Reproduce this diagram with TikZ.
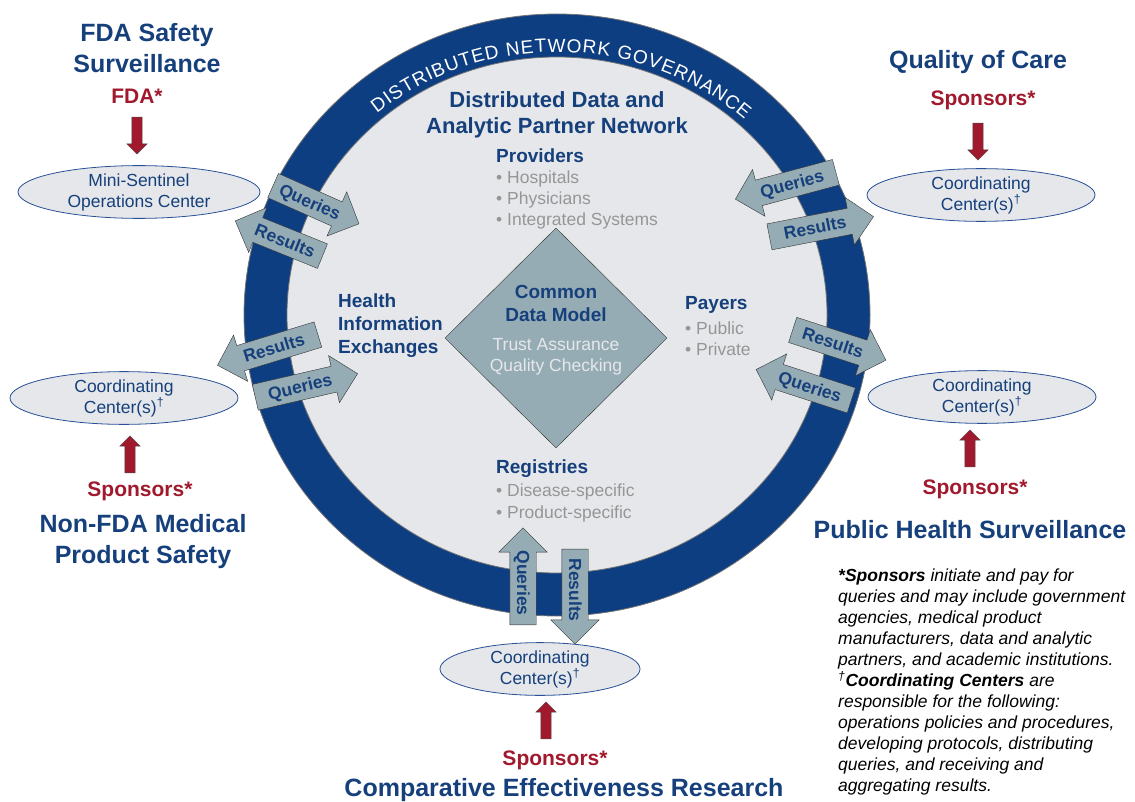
\documentclass[tikz,border=0pt]{standalone}
\usepackage{fontspec}
\setmainfont{Liberation Sans}
\usetikzlibrary{shapes.geometric,shapes.arrows,decorations.text}

\definecolor{netblue}{RGB}{14,62,130}
\definecolor{textblue}{RGB}{22,64,124}
\definecolor{sponsorred}{RGB}{160,25,45}
\definecolor{ringgray}{RGB}{229,231,234}
\definecolor{arrowgray}{RGB}{150,172,180}
\definecolor{bulletgray}{RGB}{150,150,150}
\definecolor{ovalblue}{RGB}{40,80,150}

\tikzset{
	title/.style={font=\fontsize{25}{31}\selectfont\bfseries, text=textblue, align=center, inner sep=0pt},
	sponsor/.style={font=\fontsize{21}{25}\selectfont\bfseries, text=sponsorred, inner sep=0pt},
	oval/.style={ellipse, draw=ovalblue, thick, fill=ringgray, minimum width=228pt, minimum height=46pt,
		font=\fontsize{17.5}{21}\selectfont, text=textblue, align=center, inner sep=0pt},
	flow/.style={single arrow, draw=black!80, fill=arrowgray, font=\fontsize{17.5}{18}\selectfont\bfseries,
		text=textblue, text height=13pt, text depth=1pt, inner ysep=6pt, inner xsep=6pt,
		single arrow head extend=11pt},
	push/.style={single arrow, draw=black!70, fill=sponsorred, minimum height=37pt, text height=0pt,
		text depth=0pt, inner ysep=5pt, inner xsep=0pt, single arrow head extend=5pt},
	group/.style={font=\fontsize{19}{23}\selectfont\bfseries, text=textblue, align=left, inner sep=0pt},
	items/.style={font=\fontsize{17.5}{21.3}\selectfont, text=bulletgray, align=left, inner sep=0pt},
}

\begin{document}
\begin{tikzpicture}[x=1pt,y=-1pt]
	\useasboundingbox (0,0) rectangle (1135,802);

	%ring and inner disc
	\coordinate (hub) at (557,315);
	\fill[netblue, draw=black!55, line width=0.8pt] (hub) ellipse[x radius=313pt, y radius=301pt];
	\fill[ringgray, draw=black!55, line width=0.8pt] (hub) ellipse[x radius=270pt, y radius=258pt];

	\path[decorate, decoration={text along path, text align={fit to path},
		text={|\fontsize{19}{19}\selectfont\color{white}|DISTRIBUTED NETWORK GOVERNANCE}}]
		([shift={(130:280pt and 263pt)}]hub) arc[start angle=130, end angle=48, x radius=280pt, y radius=263pt];

	%inside the network
	\node[font=\fontsize{22}{26}\selectfont\bfseries, text=textblue, align=center, inner sep=0pt] (network) at (557,115)
		{Distributed Data and\\Analytic Partner Network};

	\node[group, anchor=west] (providers) at (496,156) {Providers};
	\node[items, anchor=west] (providerlist) at (496,200) {• Hospitals\\• Physicians\\• Integrated Systems};

	\node[group, anchor=west] (hie) at (338,326) {Health\\Information\\Exchanges};

	\node[group, anchor=west] (payers) at (685,305) {Payers};
	\node[items, anchor=west] (payerlist) at (685,339) {• Public\\• Private};

	\node[group, anchor=west] (registries) at (496,469) {Registries};
	\node[items, anchor=west] (registrylist) at (496,503) {• Disease-specific\\• Product-specific};

	%common data model
	\node[draw=black!80,
	diamond,
	fill=arrowgray,
	minimum width=222pt,
	minimum height=220pt,
	inner sep=0pt] (cdm) at (556,338){};
	\node[group, align=center] (cdmhead) at (556,303) {Common\\Data Model};
	\node[items, align=center, text=ringgray, font=\fontsize{17.5}{21}\selectfont] (cdmnote) at (556,357)
		{Trust Assurance\\Quality Checking};

	%FDA safety surveillance
	\node[title] (fdatitle) at (147,48) {FDA Safety\\Surveillance};
	\node[sponsor] (fda) at (137,96) {FDA*};
	\node[push, rotate=-90] (fdapush) at (137,133) {};
	\node[oval, minimum width=242pt, minimum height=44pt] (mso) at (139,192) {Mini-Sentinel\\Operations Center};
	\node[flow, rotate=-24, minimum height=94pt] (msoquery) at (310,202) {Queries};
	\node[flow, rotate=-22, shape border rotate=180, minimum height=94pt] (msoresult) at (285,241) {Results};

	%non-FDA medical product safety
	\node[oval] (ccleft) at (124,398) {Coordinating\\Center(s)\textsuperscript{†}};
	\node[push, rotate=90] (leftpush) at (130,457) {};
	\node[sponsor] (leftsponsor) at (140,491) {Sponsors*};
	\node[title] (nonfda) at (143,542) {Non-FDA Medical\\Product Safety};
	\node[flow, rotate=17, shape border rotate=180, minimum height=105pt] (leftresult) at (274,348) {Results};
	\node[flow, rotate=13, minimum height=105pt] (leftquery) at (300,387) {Queries};

	%quality of care
	\node[title] (qoc) at (978,62) {Quality of Care};
	\node[sponsor] (qocsponsor) at (983,100) {Sponsors*};
	\node[push, rotate=-90] (qocpush) at (978,139) {};
	\node[oval] (ccqoc) at (981,195) {Coordinating\\Center(s)\textsuperscript{†}};
	\node[flow, rotate=15, shape border rotate=180, minimum height=104pt] (qocquery) at (792,184) {Queries};
	\node[flow, rotate=11, minimum height=106pt] (qocresult) at (815,228) {Results};

	%public health surveillance
	\node[oval] (ccphs) at (982,397) {Coordinating\\Center(s)\textsuperscript{†}};
	\node[push, rotate=90] (phspush) at (970,451) {};
	\node[sponsor] (phssponsor) at (975,489) {Sponsors*};
	\node[title] (phs) at (970,530) {Public Health Surveillance};
	\node[flow, rotate=-18, minimum height=98pt] (phsresult) at (833,343) {Results};
	\node[flow, rotate=-18, shape border rotate=180, minimum height=100pt] (phsquery) at (810,387) {Queries};

	%comparative effectiveness research
	\node[oval, minimum width=200pt, minimum height=47pt] (cccer) at (540,669) {Coordinating\\Center(s)\textsuperscript{†}};
	\node[push, rotate=90] (cerpush) at (546,723) {};
	\node[sponsor] (cersponsor) at (555,760) {Sponsors*};
	\node[title] (cer) at (564,790) {Comparative Effectiveness Research};
	\node[flow, rotate=-90, shape border rotate=180, minimum height=97pt] (cerquery) at (523,583) {Queries};
	\node[flow, rotate=-90, minimum height=95pt] (cerresult) at (575,590) {Results};

	%footnotes
	\node[anchor=north west,
	align=left,
	inner sep=0pt,
	font=\fontsize{17.5}{21}\selectfont\itshape] (notes) at (838,569)
		{\textbf{*Sponsors} initiate and pay for\\queries and may include government\\agencies, medical product\\manufacturers, data and analytic\\partners, and academic institutions.\\\textsuperscript{†}\textbf{Coordinating Centers} are\\responsible for the following:\\operations policies and procedures,\\developing protocols, distributing\\queries, and receiving and\\aggregating results.};
\end{tikzpicture}
\end{document}
